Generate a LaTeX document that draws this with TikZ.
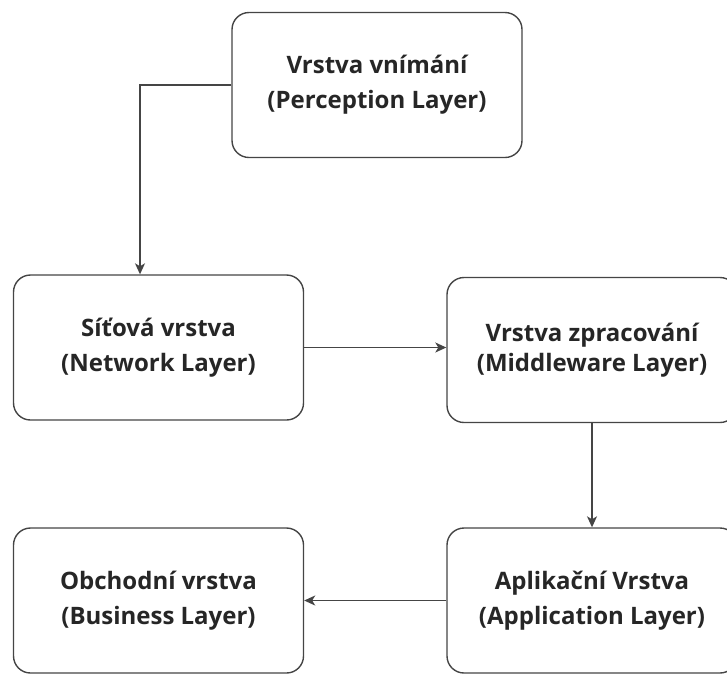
\documentclass[tikz,border=0pt]{standalone}
\usepackage{fontspec}
\setmainfont{Open Sans}
\usetikzlibrary{arrows.meta}
\definecolor{boxline}{HTML}{454545}
\definecolor{txt}{HTML}{262626}
\begin{document}
\begin{tikzpicture}[x=1pt,y=-1pt,
  layer/.style={draw=boxline, line width=1.4pt, rounded corners=17pt, fill=white,
    minimum width=290pt, minimum height=145pt, align=center, text=txt,
    font=\bfseries\fontsize{24}{35}\selectfont},
  link/.style={draw=boxline, line width=1.4pt,
    -{Stealth[length=11pt,width=10pt,inset=3pt]}}]
  \useasboundingbox (0,0) rectangle (727,673);
  \node[layer] (perc) at (377,85) {Vrstva vnímání\\(Perception Layer)};
  \node[layer] (net) at (158.5,347.5) {Síťová vrstva\\(Network Layer)};
  \node[layer, font=\bfseries\fontsize{24}{30}\selectfont] (mid) at (592,350) {Vrstva zpracování\\(Middleware Layer)};
  \node[layer] (app) at (592,600.5) {Aplikační Vrstva\\(Application Layer)};
  \node[layer] (bus) at (158.5,600.5) {Obchodní vrstva\\(Business Layer)};
  \coordinate (bend) at (140,85);
  \draw[link] (perc.west) -- (bend) -- (bend |- net.north);
  \draw[link] (net.east) -- (mid.west |- net.east);
  \draw[link] (mid.south) -- (app.north);
  \draw[link] (app.west) -- (bus.east);
\end{tikzpicture}
\end{document}
